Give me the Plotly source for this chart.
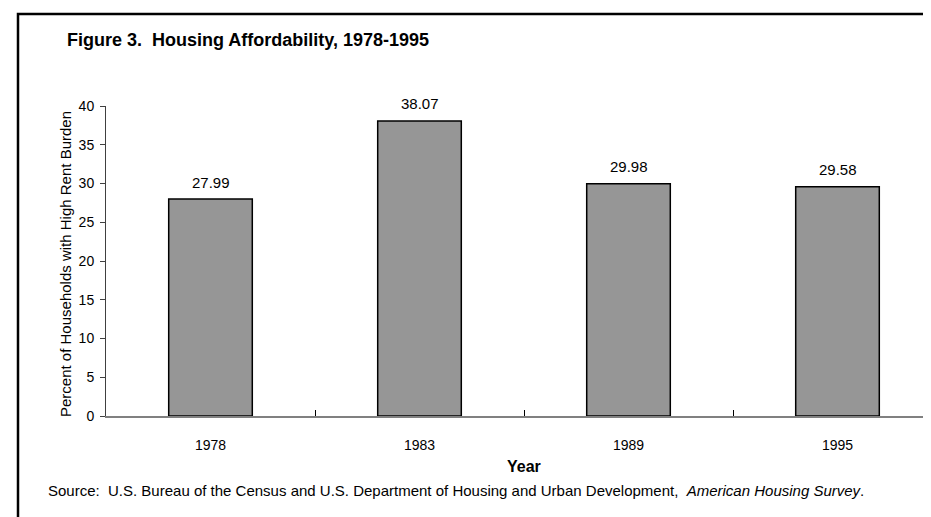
import plotly.graph_objects as go

years = ["1978", "1983", "1989", "1995"]
values = [27.99, 38.07, 29.98, 29.58]
value_labels = ["27.99", "38.07", "29.98", "29.58"]
y_ticks = [0, 5, 10, 15, 20, 25, 30, 35, 40]

title_text = "Figure 3.\u00a0\u00a0Housing Affordability, 1978-1995"
y_title = "Percent of Households with High Rent Burden"
x_title = "Year"
source_text = ("Source:\u00a0\u00a0U.S. Bureau of the Census and U.S. Department of Housing and Urban "
               "Development,\u00a0\u00a0<i>American Housing Survey</i>.")

W, H = 931, 517
L, R, T, B = 98, 0, 98, 109
PW = W - L - R
PH = H - T - B
FONT = "Arial, Liberation Sans, sans-serif"


def px_x(px):
    return (px - L) / PW


def px_y(py):
    return (H - B - py) / PH


fig = go.Figure()
fig.add_trace(go.Bar(
    x=years, y=values, width=0.4,
    marker=dict(color="#969696", line=dict(color="#000000", width=1.5)),
    showlegend=False, hoverinfo="skip",
))

for i, (v, lab) in enumerate(zip(values, value_labels)):
    fig.add_annotation(x=i, y=v, xref="x", yref="y", text=lab, showarrow=False,
                       yshift=17, yanchor="middle",
                       font=dict(family=FONT, size=15, color="#000000"))

anns = [
    dict(text="<b>" + title_text + "</b>", x=px_x(57), y=px_y(32), xanchor="left",
         yanchor="middle", font=dict(family=FONT, size=18, color="#000000")),
    dict(text=y_title, x=px_x(57), y=px_y(256), xanchor="center", yanchor="middle",
         textangle=-90, font=dict(family=FONT, size=15, color="#000000")),
    dict(text="<b>" + x_title + "</b>", x=px_x(516), y=px_y(458), xanchor="center",
         yanchor="middle", font=dict(family=FONT, size=16, color="#000000")),
    dict(text=source_text, x=px_x(38), y=px_y(482), xanchor="left", yanchor="middle",
         font=dict(family=FONT, size=15, color="#000000")),
]
for a in anns:
    fig.add_annotation(xref="paper", yref="paper", showarrow=False, **a)

# outer frame (right and bottom edges fall outside the picture)
fig.add_shape(type="rect", xref="paper", yref="paper",
              x0=px_x(10), x1=px_x(960), y0=px_y(540), y1=px_y(6),
              line=dict(color="#000000", width=2.5), fillcolor="rgba(0,0,0,0)", layer="below")

fig.update_layout(
    width=W, height=H,
    margin=dict(l=L, r=R, t=T, b=B, pad=0),
    paper_bgcolor="#ffffff", plot_bgcolor="#ffffff",
    font=dict(family=FONT, size=14, color="#000000"),
)
fig.update_xaxes(
    type="category", range=[-0.5, 3.5 - 3 / 209],
    showline=True, linecolor="#808080", linewidth=1.5,
    ticks="inside", tickson="boundaries", ticklen=6, tickcolor="#000000", tickwidth=1,
    ticklabelstandoff=15, tickfont=dict(family=FONT, size=14),
    showgrid=False, zeroline=False, fixedrange=True,
)
fig.update_yaxes(
    range=[0, 40], tickvals=y_ticks, ticktext=[str(t) for t in y_ticks],
    showline=True, linecolor="#404040", linewidth=1,
    ticks="outside", ticklen=5, tickcolor="#404040", tickwidth=1,
    ticklabelstandoff=3, tickfont=dict(family=FONT, size=14),
    showgrid=False, zeroline=False, fixedrange=True,
)

fig.write_html("out.html")
